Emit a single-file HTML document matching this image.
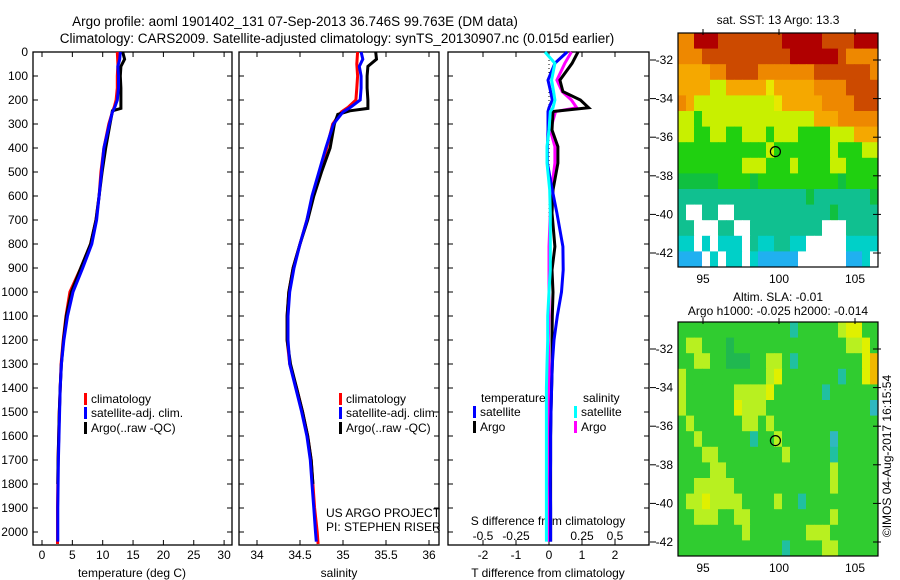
<!DOCTYPE html>
<html><head><meta charset="utf-8"><style>
body{margin:0;background:#fff}
svg{display:block;font-family:"Liberation Sans",sans-serif}
</style></head><body>
<svg id="c" width="900" height="580" viewBox="0 0 900 580">
<rect width="900" height="580" fill="#fff"/>
<text x="295" y="26" font-size="13.5" text-anchor="middle">Argo profile: aoml 1901402_131 07-Sep-2013 36.746S 99.763E (DM data)</text>
<text x="337" y="43" font-size="13.5" text-anchor="middle">Climatology: CARS2009. Satellite-adjusted climatology: synTS_20130907.nc (0.015d earlier)</text>
<text x="778" y="24" font-size="12" text-anchor="middle">sat. SST: 13 Argo: 13.3</text>
<text x="778" y="301" font-size="12" text-anchor="middle">Altim. SLA: -0.01</text>
<text x="778" y="315" font-size="12" text-anchor="middle">Argo h1000: -0.025 h2000: -0.014</text>
<text transform="translate(891,456) rotate(-90)" font-size="12" text-anchor="middle">©IMOS 04-Aug-2017 16:15:54</text>
<g id="g"></g>
</svg>
<script>
// ---- data ----
const depthTicks=[0,100,200,300,400,500,600,700,800,900,1000,1100,1200,1300,1400,1500,1600,1700,1800,1900,2000];
const tTicks=[0,5,10,15,20,25,30];
const sTicks=[34,34.5,35,35.5,36];
const dtTicks=[-2,-1,0,1,2];
const dsTicks=[-0.5,-0.25,0,0.25,0.5];
const dsTickLabels=["-0.5","-0.25","0","0.25","0.5"];
const latTicks=[-32,-34,-36,-38,-40,-42];
const lonTicks=[95,100,105];

const climD=[0,50,100,150,200,230,250,300,400,500,600,700,800,900,1000,1100,1200,1300,1400,1500,1600,1700,1800,1900,2000,2050];
const climT=[12.4,12.5,12.4,12.4,12.2,11.9,11.6,11.0,10.2,9.7,9.4,8.9,8.0,6.4,4.6,3.95,3.5,3.15,3.0,2.85,2.75,2.65,2.6,2.55,2.55,2.55];
const climS=[35.17,35.16,35.17,35.16,35.15,35.06,34.98,34.88,34.81,34.73,34.65,34.58,34.5,34.42,34.37,34.35,34.35,34.38,34.46,34.53,34.59,34.63,34.65,34.67,34.70,34.71];
const satD=[0,30,60,100,150,200,230,250,300,400,500,600,700,800,900,1000,1100,1200,1300,1400,1500,1600,1700,1800,1900,2000,2040];
const satT=[12.9,12.8,12.5,12.6,12.6,12.4,12.0,11.6,11.1,10.2,9.8,9.4,9.0,8.2,6.7,5.1,4.2,3.6,3.2,3.0,2.9,2.8,2.7,2.65,2.6,2.6,2.6];
const satS=[35.21,35.23,35.19,35.21,35.21,35.20,35.09,35.0,34.89,34.80,34.72,34.64,34.58,34.50,34.43,34.38,34.36,34.36,34.38,34.45,34.52,34.58,34.62,34.64,34.66,34.68,34.69];
const argoD=[0,30,60,100,150,200,235,245,260,300,400,500,600,700,800,900,1000,1100,1200,1300,1400,1500,1600,1700,1800];
const argoT=[13.3,13.6,13.0,12.9,13.0,13.0,13.0,11.6,11.5,11.2,10.5,9.9,9.4,8.9,8.0,6.4,4.85,4.0,3.55,3.2,3.0,2.85,2.75,2.65,2.6];
const argoS=[35.38,35.39,35.29,35.28,35.28,35.29,35.29,35.08,34.94,34.9,34.85,34.75,34.66,34.59,34.5,34.42,34.37,34.35,34.35,34.39,34.46,34.53,34.59,34.63,34.65];
const dD=[0,47,117,165,200,232,248,325,394,463,575,671,811,908,1000,1100,1200,1300,1400,1500,1600,1700,1800,1900,2000,2040];
const dTsat=[0.55,0.18,-0.03,0.05,0.1,0.0,-0.03,-0.03,-0.05,-0.05,0.1,0.24,0.42,0.43,0.38,0.25,0.15,0.1,0.08,0.06,0.05,0.05,0.04,0.05,0.05,0.05];
const dTargo=[0.88,0.7,0.33,0.42,0.95,1.2,0.12,0.09,0.27,0.27,0.12,0.09,0.18,0.09,0.12,0.1,0.09,0.1,0.08,0.06,0.05,0.05,0.05,0.05,0.05,0.05];
const dSsat=[-0.03,0.045,0.02,0.035,0.045,0.03,0.01,0.0,-0.015,-0.015,0.005,0.01,0.01,0.01,0.0,-0.01,-0.01,-0.015,-0.02,-0.02,-0.02,-0.02,-0.02,-0.02,-0.02,-0.02];
const dSargo=[0.17,0.12,0.06,0.10,0.17,0.21,0.05,0.01,0.045,0.045,0.02,0.01,0.0,0.0,0.0,0.0,-0.005,0.0,0.0,0.0,0.0,0.0,0.0,0.0,-0.005,-0.005];

const sstRows=["OORRRrrrrrrrrRRRRRrrrrRRR","OOOrrrrrrrrrrrRRRRRRrOOOO","ooooOOrrrrOOOOOOOrrrrrrrO","ooooyyoooooYoooooOOOOrrrr","OoyyyyyyyyyyYoooooOOOOrrr","yyGyyyyyyyyyyyyyyoooOOOOO","yyGGyyGGyyyGyyyGGGGyyyooo","GGGGGGGGGGGyGGGGGGGyGGGyy","GGGGGGGGyyyGGGyGGGGyyGGGG","gggggGGGGgGGGGGGGGGGgGGGG","TTTTTTTTTTTTTTTTgTTTTTTTg","TWWTTWWTTTTTTTTTTTTgTTTTT","TTWWWTTWWTTTTTTTTTWWWTTTT","CCWCWCCCWTCCTTCCWWWWWCCCC","BBBWCWCCWCBBBBBWWWWWWBBCW"];
const slaRows=["GGGGGGGGGGGGGGtGGGGGyYYGG","GyyGGGgGGGGGGGGGGGGGGyyYG","GGyyGGgggGGyyGtGGGGGGGGYO","yGGGGGGGGGGyYGGGGGGGtGGYO","yGGGGGGyyyyYGGGGGGtGGGGGG","yGGGGGGYyyyGGGGGGGGGGGGGc","GyGGGGGGyyGyGGGGGGGGGGGGG","GGyGGGGGGtGGyGGGGGGcGGGGG","GGGyyGGGGGGGGyGGGGGtGGGGG","GGGGyyGGGGGGGGGGGGGyGGGGG","GGyyyyyGGGGGGGGGGGGyGGGGG","GyyYyyyyGGGGyGGtGGGGGGGGG","GGyyyGGyyGGGGGGGGGGyGGGGG","GGGGGGGGyGGGGGGGyyyGGGGGG","GGGGGGGGGGGGGtGGGGyyGGGGG"];
const argoLon=99.763, argoLat=-36.746;

// ---- helpers ----
const NS="http://www.w3.org/2000/svg";const G=document.getElementById('g');
function mk(t,a,p){const e=document.createElementNS(NS,t);for(const k in a)e.setAttribute(k,a[k]);(p||G).appendChild(e);return e;}
function txt(x,y,s,anchor,size){const e=mk('text',{x:x,y:y,'font-size':size||12,'text-anchor':anchor||'middle'});e.textContent=s;return e;}
const Y=d=>52+d*0.24;
const yTop=52,yBot=545;
const P1={l:33,r:232},P2={l:239,r:439},P3={l:448,r:649};
const xT=v=>42+v*6.07, xS=v=>257+(v-34)*86, xDT=v=>549+v*33, xDS=v=>549+v*132;

function frame(p,nm){const r=mk('rect',{x:p.l,y:yTop,width:p.r-p.l,height:yBot-yTop,fill:'none',stroke:'#000','stroke-width':1.3});

}
frame(P1,'temperature-panel');frame(P2,'salinity-panel');frame(P3,'difference-panel');

depthTicks.forEach(d=>{[P1,P2,P3].forEach(p=>{mk('line',{x1:p.l,x2:p.l+5,y1:Y(d),y2:Y(d),stroke:'#000'});mk('line',{x1:p.r-5,x2:p.r,y1:Y(d),y2:Y(d),stroke:'#000'});});
const t=txt(28,Y(d)+4,String(d),'end');

});
function xt(vals,fx,p,labels,yl){vals.forEach((v,i)=>{const x=fx(v);mk('line',{x1:x,x2:x,y1:yTop,y2:yTop+5,stroke:'#000'});mk('line',{x1:x,x2:x,y1:yBot-5,y2:yBot,stroke:'#000'});
const t=txt(x,yl||559,labels?labels[i]:String(v));

});}
xt(tTicks,xT,P1);xt(sTicks,xS,P2);xt(dtTicks,xDT,P3);
dsTicks.forEach((v,i)=>{const t=txt(xDS(v),540,dsTickLabels[i]);

});
let at=txt(132,577,'temperature (deg C)');
at=txt(339,577,'salinity');
at=txt(548,577,'T difference from climatology');
at=txt(548,525,'S difference from climatology');
at=txt(326,517,'US ARGO PROJECT','start');
at=txt(326,531,'PI: STEPHEN RISER','start');
const z=mk('line',{x1:xDT(0),x2:xDT(0),y1:yTop,y2:yBot,stroke:'#000','stroke-dasharray':'1,3'});



function series(ds,vs,fx,col,nm){const pts=ds.map((d,i)=>fx(vs[i]).toFixed(1)+','+Y(d).toFixed(1)).join(' ');
const e=mk('polyline',{points:pts,fill:'none',stroke:col,'stroke-width':3,'stroke-linejoin':'miter'});

}
series(climD,climT,xT,'#f00','temp-climatology-line');
series(argoD,argoT,xT,'#000','temp-argo-line');
series(satD,satT,xT,'#00f','temp-satellite-line');
series(climD,climS,xS,'#f00','sal-climatology-line');
series(argoD,argoS,xS,'#000','sal-argo-line');
series(satD,satS,xS,'#00f','sal-satellite-line');
series(dD,dSargo,xDS,'#f0f','s-diff-argo-line');
series(dD,dTargo,xDT,'#000','t-diff-argo-line');
series(dD,dTsat,xDT,'#00f','t-diff-satellite-line');
series(dD,dSsat,xDS,'#0ff','s-diff-satellite-line');

function leg(x,y,col,label,nm){const b=mk('rect',{x:x,y:y-10,width:3,height:12,fill:col});


const t=txt(x+7,y,label,'start');

}
leg(84,403,'#f00','climatology','legend-climatology');leg(84,417,'#00f','satellite-adj. clim.','legend-satellite');leg(84,432,'#000','Argo(..raw -QC)','legend-argo');
leg(339,403,'#f00','climatology','legend2-climatology');leg(339,417,'#00f','satellite-adj. clim.','legend2-satellite');leg(339,432,'#000','Argo(..raw -QC)','legend2-argo');
at=txt(481,402,'temperature','start');
at=txt(583,402,'salinity','start');
leg(473,416,'#00f','satellite','legend-t-satellite');leg(473,431,'#000','Argo','legend-t-argo');
leg(574,416,'#0ff','satellite','legend-s-satellite');leg(574,431,'#f0f','Argo','legend-s-argo');

const sstCol={R:'#b00000',r:'#cc4a00',O:'#ee8800',o:'#f5a800',Y:'#e8e800',y:'#c8f000',G:'#20d010',g:'#10c040',T:'#10c090',C:'#00d0c8',B:'#20b0f0',W:'#ffffff'};
const slaCol={G:'#30cc30',g:'#20b850',y:'#b8f020',Y:'#e0f000',O:'#f0b800',t:'#20c0a0',c:'#30b8c0'};
const mL=678,mR=878;
const lx=v=>703+(v-95)*15.2;
function map(rows,cols,t0,nm){const nr=rows.length,nc=rows[0].length,cw=(mR-mL)/nc,ch=234/nr;
const g=mk('g',{});
rows.forEach((row,i)=>{for(let j=0;j<nc;j++)mk('rect',{x:mL+j*cw,y:t0+i*ch,width:cw+0.5,height:ch+0.5,fill:cols[row[j]]},g);});
mk('rect',{x:mL,y:t0,width:mR-mL,height:234,fill:'none',stroke:'#000','stroke-width':1.2});
const ly=v=>t0+27+(-32-v)*19.3;
latTicks.forEach(v=>{mk('line',{x1:mL-28,x2:mL-22,y1:ly(v),y2:ly(v),stroke:'#000'});mk('line',{x1:mR-5,x2:mR+3,y1:ly(v),y2:ly(v),stroke:'#000'});
const t=txt(673,ly(v)+4,String(v),'end');});
lonTicks.forEach(v=>{mk('line',{x1:lx(v),x2:lx(v),y1:t0-4,y2:t0+2,stroke:'#000'});
const t=txt(lx(v),t0+250,String(v));});
const c=mk('circle',{cx:lx(argoLon),cy:ly(argoLat),r:5,fill:'none',stroke:'#000','stroke-width':1.2});

}
map(sstRows,sstCol,33,'sst-map');
map(slaRows,slaCol,322,'sla-map');
</script>
</body></html>
